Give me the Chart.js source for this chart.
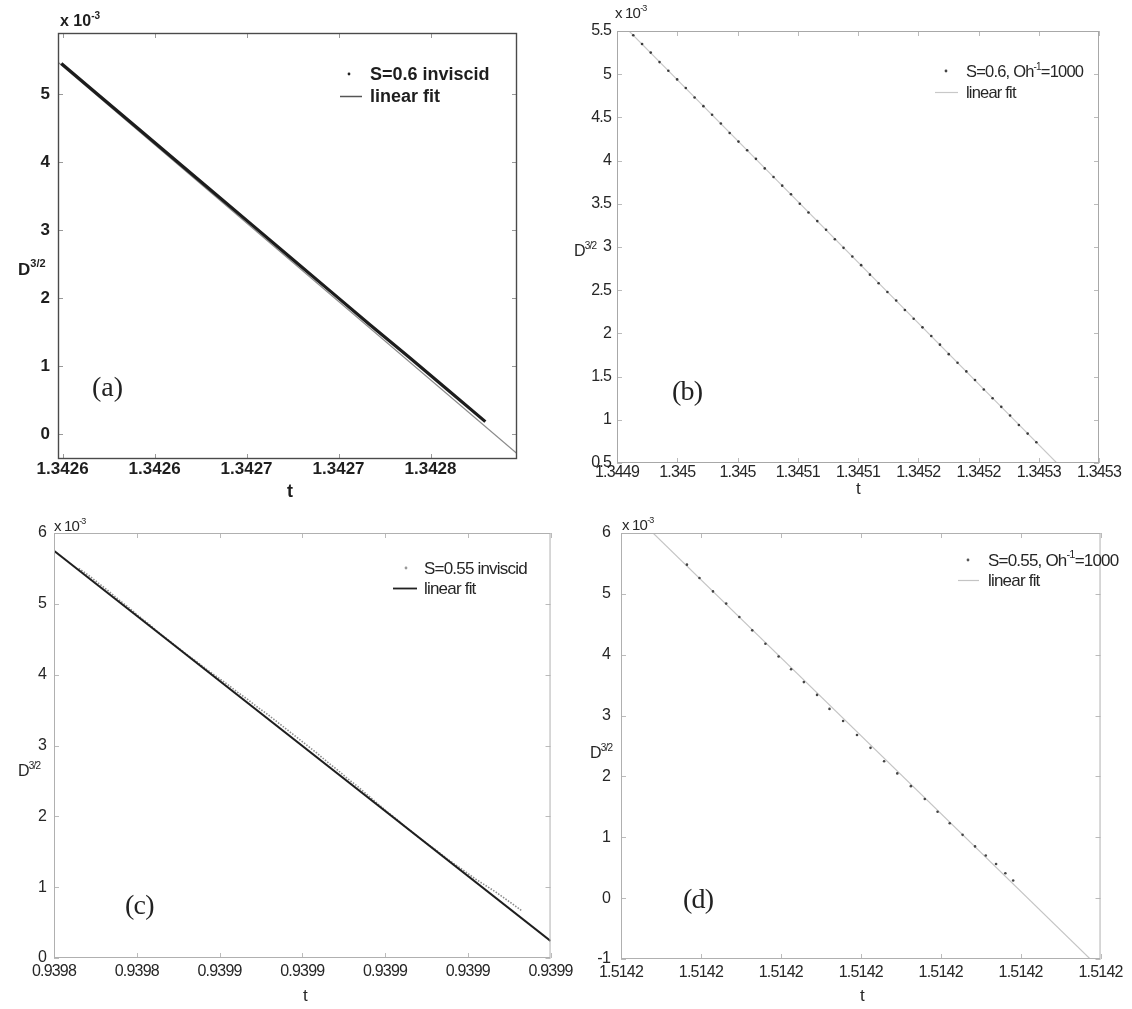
<!DOCTYPE html>
<html>
<head>
<meta charset="utf-8">
<script src="https://cdn.jsdelivr.net/npm/chart.js@4"></script>
<style>
  body { margin: 0; background: #fff; width: 1132px; height: 1009px; position: relative; overflow: hidden; }
  .panel { position: absolute; }
</style>
</head>
<body>
<script>
// ----------------------------
// DATOS (a) S=0.6 inviscid
// ----------------------------
const aTickX = [1.34255, 1.34260, 1.34265, 1.34270, 1.34275];
const aLabelX = ["1.3426", "1.3426", "1.3427", "1.3427", "1.3428"];
const aTickY = [0, 1, 2, 3, 4, 5];
const aLabelY = ["0", "1", "2", "3", "4", "5"];
const aTime = [1.3425493, 1.3425703, 1.3425912, 1.3426122, 1.3426331, 1.3426541,
               1.3426750, 1.3426960, 1.3427169, 1.3427379, 1.3427588, 1.3427798];
const aD32 = [5.45, 4.97, 4.49, 4.01, 3.53, 3.05, 2.57, 2.09, 1.61, 1.14, 0.66, 0.18];
const aFitTime = [1.3425475, 1.342797];
const aFitD32 = [5.47, -0.29];

// ----------------------------
// DATOS (b) S=0.6, Oh^-1=1000
// ----------------------------
const bTickX = [1.3449, 1.34495, 1.345, 1.34505, 1.3451, 1.34515, 1.3452, 1.34525, 1.3453];
const bLabelX = ["1.3449", "1.345", "1.345", "1.3451", "1.3451", "1.3452", "1.3452", "1.3453", "1.3453"];
const bTickY = [0.5, 1, 1.5, 2, 2.5, 3, 3.5, 4, 4.5, 5, 5.5];
const bLabelY = ["0.5", "1", "1.5", "2", "2.5", "3", "3.5", "4", "4.5", "5", "5.5"];
const bTime = [1.3449135, 1.3449208, 1.3449280, 1.3449353, 1.3449426, 1.3449499, 1.3449571, 1.3449644,
               1.3449717, 1.3449789, 1.3449862, 1.3449935, 1.3450008, 1.3450080, 1.3450153, 1.3450226,
               1.3450299, 1.3450371, 1.3450444, 1.3450517, 1.3450589, 1.3450662, 1.3450735, 1.3450808,
               1.3450880, 1.3450953, 1.3451026, 1.3451099, 1.3451171, 1.3451244, 1.3451317, 1.3451389,
               1.3451462, 1.3451535, 1.3451608, 1.3451680, 1.3451753, 1.3451826, 1.3451899, 1.3451971,
               1.3452044, 1.3452117, 1.3452189, 1.3452262, 1.3452335, 1.3452408, 1.3452480];
const bD32 = [5.45, 5.35, 5.25, 5.14, 5.04, 4.94, 4.84, 4.73, 4.63, 4.53, 4.43, 4.32, 4.22, 4.12, 4.02, 3.91,
              3.81, 3.71, 3.61, 3.50, 3.40, 3.30, 3.20, 3.09, 2.99, 2.89, 2.79, 2.68, 2.58, 2.48, 2.38, 2.27,
              2.17, 2.07, 1.97, 1.87, 1.76, 1.66, 1.56, 1.46, 1.35, 1.25, 1.15, 1.05, 0.94, 0.84, 0.74];
const bFitTime = [1.34491, 1.345265];
const bFitD32 = [5.5, 0.5];

// ----------------------------
// DATOS (c) S=0.55 inviscid
// ----------------------------
const cTickX = [0.93982, 0.93984, 0.93986, 0.93988, 0.93990, 0.93992, 0.93994];
const cLabelX = ["0.9398", "0.9398", "0.9399", "0.9399", "0.9399", "0.9399", "0.9399"];
const cTickY = [0, 1, 2, 3, 4, 5, 6];
const cLabelY = ["0", "1", "2", "3", "4", "5", "6"];
const cTime = [0.939826, 0.9398284, 0.9398308, 0.9398332, 0.9398356, 0.939838, 0.9398404, 0.9398428,
               0.9398452, 0.9398476, 0.93985, 0.9398524, 0.9398548, 0.9398572, 0.9398596, 0.939862,
               0.9398644, 0.9398668, 0.9398692, 0.9398716, 0.939874, 0.9398764, 0.9398788, 0.9398812,
               0.9398836, 0.939886, 0.9398884, 0.9398908, 0.9398932, 0.9398956, 0.939898, 0.9399004,
               0.9399028, 0.9399052, 0.9399076, 0.93991, 0.9399124, 0.9399148, 0.9399172, 0.9399196,
               0.939922, 0.9399244, 0.9399268, 0.9399292, 0.9399316, 0.9399332];
const cD32 = [5.50, 5.40, 5.29, 5.18, 5.06, 4.95, 4.83, 4.72, 4.60, 4.49, 4.38, 4.27, 4.17, 4.06, 3.96, 3.86,
              3.75, 3.65, 3.54, 3.44, 3.33, 3.22, 3.11, 3.00, 2.89, 2.77, 2.66, 2.54, 2.43, 2.31, 2.19, 2.07,
              1.96, 1.84, 1.73, 1.62, 1.52, 1.41, 1.31, 1.21, 1.11, 1.02, 0.93, 0.83, 0.73, 0.66];
const cFitTime = [0.93982, 0.93994];
const cFitD32 = [5.75, 0.24];

// ----------------------------
// DATOS (d) S=0.55, Oh^-1=1000
// ----------------------------
const dTickX = [1.51418, 1.51419, 1.51420, 1.51421, 1.51422, 1.51423, 1.51424];
const dLabelX = ["1.5142", "1.5142", "1.5142", "1.5142", "1.5142", "1.5142", "1.5142"];
const dTickY = [-1, 0, 1, 2, 3, 4, 5, 6];
const dLabelY = ["-1", "0", "1", "2", "3", "4", "5", "6"];
const dTime = [1.51418825, 1.51418982, 1.51419151, 1.51419316, 1.51419481, 1.51419642, 1.51419807,
               1.51419972, 1.51420128, 1.51420288, 1.51420453, 1.51420609, 1.51420779, 1.51420953,
               1.51421122, 1.51421292, 1.51421457, 1.51421627, 1.51421801, 1.51421961, 1.51422113,
               1.51422274, 1.5142243, 1.51422564, 1.51422693, 1.51422809, 1.51422907];
const dD32 = [5.48, 5.26, 5.04, 4.84, 4.62, 4.40, 4.18, 3.97, 3.76, 3.55, 3.34, 3.11, 2.91, 2.68,
              2.47, 2.25, 2.05, 1.84, 1.63, 1.42, 1.23, 1.04, 0.85, 0.70, 0.56, 0.41, 0.29];
const dFitTime = [1.51418401, 1.5142387];
const dFitD32 = [6, -1];

// ----------------------------
// helpers
// ----------------------------
const SANS = "'Liberation Sans', Arial, sans-serif";
const SERIF = "'Liberation Serif', 'Times New Roman', serif";
const mL = 70, mT = 40, mR = 25, mB = 55;

const pts = (xs, ys) => xs.map((x, i) => ({ x: x, y: ys[i] }));

// texto con superindices: "x 10^{-3}"
function drawRich(ctx, str, x, y, f) {
    const parts = str.split(/(\^\{[^}]*\})/).filter(p => p);
    const segs = parts.map(p => {
        const sup = p.startsWith("^{");
        return { txt: sup ? p.slice(2, -1) : p, sup: sup };
    });
    const fontOf = s => `${f.weight || "normal"} ${s.sup ? Math.round(f.size * 0.62) : f.size}px ${f.family}`;
    let total = 0;
    segs.forEach(s => { ctx.font = fontOf(s); total += ctx.measureText(s.txt).width; });
    let cx = f.align === "center" ? x - total / 2 : x;
    ctx.textAlign = "left";
    ctx.textBaseline = "alphabetic";
    ctx.fillStyle = f.color || "#222";
    segs.forEach(s => {
        ctx.font = fontOf(s);
        ctx.fillText(s.txt, cx, s.sup ? y - f.size * 0.45 : y);
        cx += ctx.measureText(s.txt).width;
    });
}

// marco, ticks hacia adentro, textos y leyenda
const decor = {
    id: "decor",
    beforeDraw(chart, args, o) {
        // letras apretadas como en la figura escaneada
        if ("letterSpacing" in chart.ctx) chart.ctx.letterSpacing = o.spacing || "0px";
    },
    afterDraw(chart, args, o) {
        const ctx = chart.ctx;
        const { left, right, top, bottom } = chart.chartArea;
        const xs = chart.scales.x, ys = chart.scales.y;
        ctx.save();
        ctx.strokeStyle = o.tickColor;
        ctx.lineWidth = 1;
        ctx.beginPath();
        xs.ticks.forEach(tk => {
            const px = Math.round(xs.getPixelForValue(tk.value)) + 0.5;
            ctx.moveTo(px, bottom); ctx.lineTo(px, bottom - 5);
            ctx.moveTo(px, top); ctx.lineTo(px, top + 5);
        });
        ys.ticks.forEach(tk => {
            const py = Math.round(ys.getPixelForValue(tk.value)) + 0.5;
            ctx.moveTo(left, py); ctx.lineTo(left + 5, py);
            ctx.moveTo(right, py); ctx.lineTo(right - 5, py);
        });
        ctx.stroke();
        ctx.strokeStyle = o.frameColor;
        ctx.lineWidth = o.frameWidth;
        ctx.strokeRect(left + 0.5, top + 0.5, right - left - 1, bottom - top - 1);

        // textos sueltos (coordenadas de pagina)
        o.texts.forEach(t => drawRich(ctx, t.text, t.x - o.offX, t.y - o.offY, t));

        // leyenda
        const lg = o.legend;
        chart.data.datasets.forEach((ds, i) => {
            const y = lg.ys[i] - o.offY;
            if (ds.marker === "dot") {
                ctx.fillStyle = ds.markColor;
                ctx.beginPath();
                ctx.arc(lg.dotX - o.offX, y, 1.4, 0, Math.PI * 2);
                ctx.fill();
            } else {
                ctx.strokeStyle = ds.markColor;
                ctx.lineWidth = ds.markWidth;
                ctx.beginPath();
                ctx.moveTo(lg.lineX[0] - o.offX, y + 0.5);
                ctx.lineTo(lg.lineX[1] - o.offX, y + 0.5);
                ctx.stroke();
            }
            drawRich(ctx, ds.label, lg.textX - o.offX, y + lg.font.size * 0.36, lg.font);
        });
        ctx.restore();
    }
};

function makePanel(p) {
    const [l, t, r, b] = p.box;
    const offX = l - mL, offY = t - mT;
    const div = document.createElement("div");
    div.className = "panel";
    div.style.left = offX + "px";
    div.style.top = offY + "px";
    const canvas = document.createElement("canvas");
    canvas.width = (r - l) + mL + mR;
    canvas.height = (b - t) + mT + mB;
    div.appendChild(canvas);
    document.body.appendChild(div);

    new Chart(canvas, {
        type: "scatter",
        data: { datasets: p.datasets },
        options: {
            responsive: false,
            animation: false,
            events: [],
            layout: { autoPadding: false, padding: { left: 0, top: mT, right: mR, bottom: 0 } },
            scales: {
                x: {
                    type: "linear", min: p.rangeX[0], max: p.rangeX[1],
                    afterBuildTicks: s => { s.ticks = p.tickX.map(v => ({ value: v })); },
                    afterFit: s => { s.height = mB; },
                    grid: { display: false, drawTicks: false },
                    border: { display: false },
                    ticks: { autoSkip: false, maxRotation: 0, minRotation: 0, padding: p.padX,
                             color: p.textColor, font: p.tickFont,
                             callback: (v, i) => p.labelX[i] }
                },
                y: {
                    type: "linear", min: p.rangeY[0], max: p.rangeY[1],
                    afterBuildTicks: s => { s.ticks = p.tickY.map(v => ({ value: v })); },
                    afterFit: s => { s.width = mL; },
                    grid: { display: false, drawTicks: false },
                    border: { display: false },
                    ticks: { autoSkip: false, padding: p.padY, color: p.textColor, font: p.tickFont,
                             callback: (v, i) => p.labelY[i] }
                }
            },
            plugins: {
                legend: { display: false },
                tooltip: { enabled: false },
                decor: Object.assign({ offX: offX, offY: offY }, p.decor)
            }
        },
        plugins: [decor]
    });
}

const boldA = { family: SANS, size: 18, weight: "bold", color: "#1e1e1e" };
const nar = (size, extra) => Object.assign({ family: SANS, size: size, weight: "normal", color: "#262626" }, extra || {});

// ----------------------------
// (a)
// ----------------------------
makePanel({
    box: [58, 33, 517, 459],
    rangeX: [1.3425475, 1.342797], rangeY: [-0.37, 5.9],
    tickX: aTickX, labelX: aLabelX, tickY: aTickY, labelY: aLabelY,
    tickFont: { family: SANS, size: 17, weight: "bold" }, textColor: "#1e1e1e", padX: 0, padY: 8,
    datasets: [
        { label: "S=0.6 inviscid", marker: "dot", markColor: "#222", data: pts(aTime, aD32),
          showLine: true, borderColor: "#1c1c1c", borderWidth: 3.2, pointRadius: 0, order: 0 },
        { label: "linear fit", marker: "line", markColor: "#555", markWidth: 1.5, data: pts(aFitTime, aFitD32),
          showLine: true, borderColor: "#8a8a8a", borderWidth: 1.3, pointRadius: 0, order: 1 }
    ],
    decor: {
        spacing: "0px",
        frameColor: "#4a4a4a", frameWidth: 1.4, tickColor: "#999",
        texts: [
            Object.assign({ text: "x 10^{-3}", x: 60, y: 26 }, boldA, { size: 16 }),
            Object.assign({ text: "D^{3/2}", x: 18, y: 275 }, boldA, { size: 17 }),
            Object.assign({ text: "t", x: 290, y: 497, align: "center" }, boldA),
            { text: "(a)", x: 92, y: 396, family: SERIF, size: 28, weight: "normal", color: "#222" }
        ],
        legend: { dotX: 349, lineX: [340, 362], textX: 370, ys: [74, 96], font: boldA }
    }
});

// ----------------------------
// (b)
// ----------------------------
makePanel({
    box: [617, 31, 1099, 463],
    rangeX: [1.3449, 1.3453], rangeY: [0.5, 5.5],
    tickX: bTickX, labelX: bLabelX, tickY: bTickY, labelY: bLabelY,
    tickFont: { family: SANS, size: 16 }, textColor: "#262626", padX: 0, padY: 6,
    datasets: [
        { label: "S=0.6, Oh^{-1}=1000", marker: "dot", markColor: "#444", data: pts(bTime, bD32),
          showLine: false, pointRadius: 1.3, pointBackgroundColor: "#3a3a3a", pointBorderWidth: 0, order: 0 },
        { label: "linear fit", marker: "line", markColor: "#c8c8c8", markWidth: 1.2, data: pts(bFitTime, bFitD32),
          showLine: true, borderColor: "#c8c8c8", borderWidth: 1.1, pointRadius: 0, order: 1 }
    ],
    decor: {
        spacing: "-0.8px",
        frameColor: "#a8a8a8", frameWidth: 1, tickColor: "#bbb",
        texts: [
            nar(15, { text: "x 10^{-3}", x: 615, y: 18 }),
            nar(16, { text: "D^{3/2}", x: 574, y: 256 }),
            nar(17, { text: "t", x: 858, y: 494, align: "center" }),
            { text: "(b)", x: 672, y: 400, family: SERIF, size: 28, weight: "normal", color: "#222" }
        ],
        legend: { dotX: 946, lineX: [935, 958], textX: 966, ys: [71, 92], font: nar(16.5) }
    }
});

// ----------------------------
// (c)
// ----------------------------
makePanel({
    box: [54, 533, 554, 958],
    rangeX: [0.93982, 0.93994], rangeY: [0, 6],
    tickX: cTickX, labelX: cLabelX, tickY: cTickY, labelY: cLabelY,
    tickFont: { family: SANS, size: 16 }, textColor: "#262626", padX: 4, padY: 8,
    datasets: [
        { label: "S=0.55 inviscid", marker: "dot", markColor: "#999", data: pts(cTime, cD32),
          showLine: true, borderColor: "#8c8c8c", borderWidth: 1.6, borderDash: [1.5, 1.5], pointRadius: 0, order: 1 },
        { label: "linear fit", marker: "line", markColor: "#222", markWidth: 1.8, data: pts(cFitTime, cFitD32),
          showLine: true, borderColor: "#1e1e1e", borderWidth: 2, pointRadius: 0, order: 0 }
    ],
    decor: {
        spacing: "-0.8px",
        frameColor: "#b0b0b0", frameWidth: 1, tickColor: "#bbb",
        texts: [
            nar(15, { text: "x 10^{-3}", x: 54, y: 531 }),
            nar(16, { text: "D^{3/2}", x: 18, y: 776 }),
            nar(17, { text: "t", x: 305, y: 1001, align: "center" }),
            { text: "(c)", x: 125, y: 914, family: SERIF, size: 28, weight: "normal", color: "#222" }
        ],
        legend: { dotX: 406, lineX: [393, 417], textX: 424, ys: [568, 588], font: nar(17) }
    }
});

// ----------------------------
// (d)
// ----------------------------
makePanel({
    box: [621, 533, 1104, 959],
    rangeX: [1.51418, 1.51424], rangeY: [-1, 6],
    tickX: dTickX, labelX: dLabelX, tickY: dTickY, labelY: dLabelY,
    tickFont: { family: SANS, size: 16 }, textColor: "#262626", padX: 4, padY: 11,
    datasets: [
        { label: "S=0.55, Oh^{-1}=1000", marker: "dot", markColor: "#555", data: pts(dTime, dD32),
          showLine: false, pointRadius: 1.3, pointBackgroundColor: "#444", pointBorderWidth: 0, order: 0 },
        { label: "linear fit", marker: "line", markColor: "#c4c4c4", markWidth: 1.2, data: pts(dFitTime, dFitD32),
          showLine: true, borderColor: "#c4c4c4", borderWidth: 1.1, pointRadius: 0, order: 1 }
    ],
    decor: {
        spacing: "-0.8px",
        frameColor: "#b0b0b0", frameWidth: 1, tickColor: "#bbb",
        texts: [
            nar(15, { text: "x 10^{-3}", x: 622, y: 530 }),
            nar(16, { text: "D^{3/2}", x: 590, y: 758 }),
            nar(17, { text: "t", x: 862, y: 1001, align: "center" }),
            { text: "(d)", x: 683, y: 908, family: SERIF, size: 28, weight: "normal", color: "#222" }
        ],
        legend: { dotX: 968, lineX: [958, 979], textX: 988, ys: [560, 580], font: nar(17) }
    }
});
</script>
</body>
</html>
